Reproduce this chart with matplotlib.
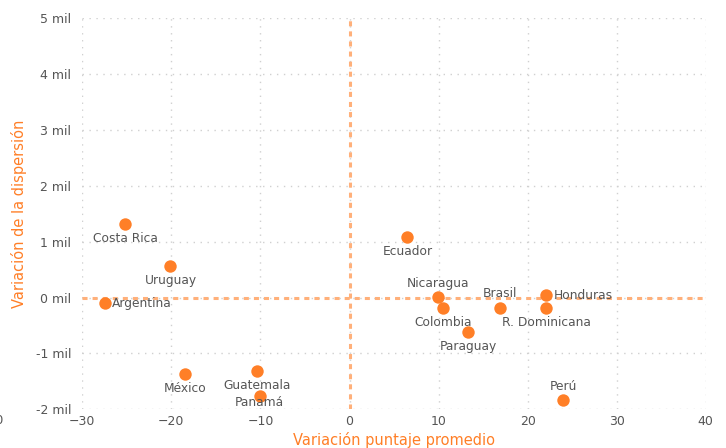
import matplotlib
matplotlib.use("Agg")
import matplotlib.pyplot as plt

countries = ["Costa Rica", "Uruguay", "Argentina", "México", "Guatemala", "Panamá",
             "Ecuador", "Nicaragua", "Colombia", "Paraguay", "Brasil", "Honduras",
             "R. Dominicana", "Perú"]
x_vals = [-25.2, -20.1, -27.5, -18.5, -10.4, -10.1,
          6.5, 9.9, 10.5, 13.3, 16.9, 22.1, 22.1, 24.0]
y_vals = [1.31, 0.56, -0.10, -1.37, -1.32, -1.76,
          1.09, 0.01, -0.18, -0.61, -0.18, 0.04, -0.18, -1.84]
label_pos = ["below", "below", "right", "below", "below", "below_close",
             "below", "above", "below", "below", "above", "right", "below", "above"]
x_ticks = [-30, -20, -10, 0, 10, 20, 30, 40]
y_ticks = [-2, -1, 0, 1, 2, 3, 4, 5]
y_ticklabels = [f"{v} mil" for v in y_ticks]

orange = "#FF7F27"
light_orange = "#FFB07A"
text_gray = "#555555"

fig = plt.figure(figsize=(7.26, 4.48), dpi=100)
ax = fig.add_axes([0.1134, 0.0864, 0.8587, 0.8728])
ax.set_xlim(-30, 40)
ax.set_ylim(-2, 5)

for s in ax.spines.values():
    s.set_visible(False)
ax.set_xticks(x_ticks)
ax.set_yticks(y_ticks)
ax.set_yticklabels(y_ticklabels)
ax.tick_params(length=0, colors=text_gray, labelsize=9)
ax.tick_params(axis="y", pad=8)
ax.tick_params(axis="x", pad=4)
ax.grid(True, color="#d0d0d0", linestyle=(0, (1, 4)), linewidth=1)
ax.set_axisbelow(True)

ax.axhline(0, color=light_orange, linestyle=(0, (1.65, 1.65)), linewidth=2.2, zorder=2)
ax.axvline(0, color=light_orange, linestyle=(0, (1.65, 1.65)), linewidth=2.2, zorder=2)

ax.scatter(x_vals, y_vals, s=80, color=orange, zorder=3, linewidths=0)

offsets = {"below": (0, -10.5, "center", "center"),
           "below_close": (0, -5, "center", "center"),
           "above": (0, 10, "center", "center"),
           "right": (5, 0, "left", "center")}
for name, xv, yv, pos in zip(countries, x_vals, y_vals, label_pos):
    dx, dy, ha, va = offsets[pos]
    ax.annotate(name, (xv, yv), xytext=(dx, dy), textcoords="offset points",
                ha=ha, va=va, fontsize=8.8, color=text_gray, zorder=4)

ax.set_xlabel("Variación puntaje promedio", color=orange, fontsize=10.5, labelpad=3)
ax.set_ylabel("Variación de la dispersión", color=orange, fontsize=10.5, labelpad=6)

# clipped tick label at left edge of the figure
fig.text(-6 / 726, 1 - 420 / 448, "-40", ha="center", va="center",
         fontsize=9, color=text_gray)

fig.savefig("out.png", dpi=100)
